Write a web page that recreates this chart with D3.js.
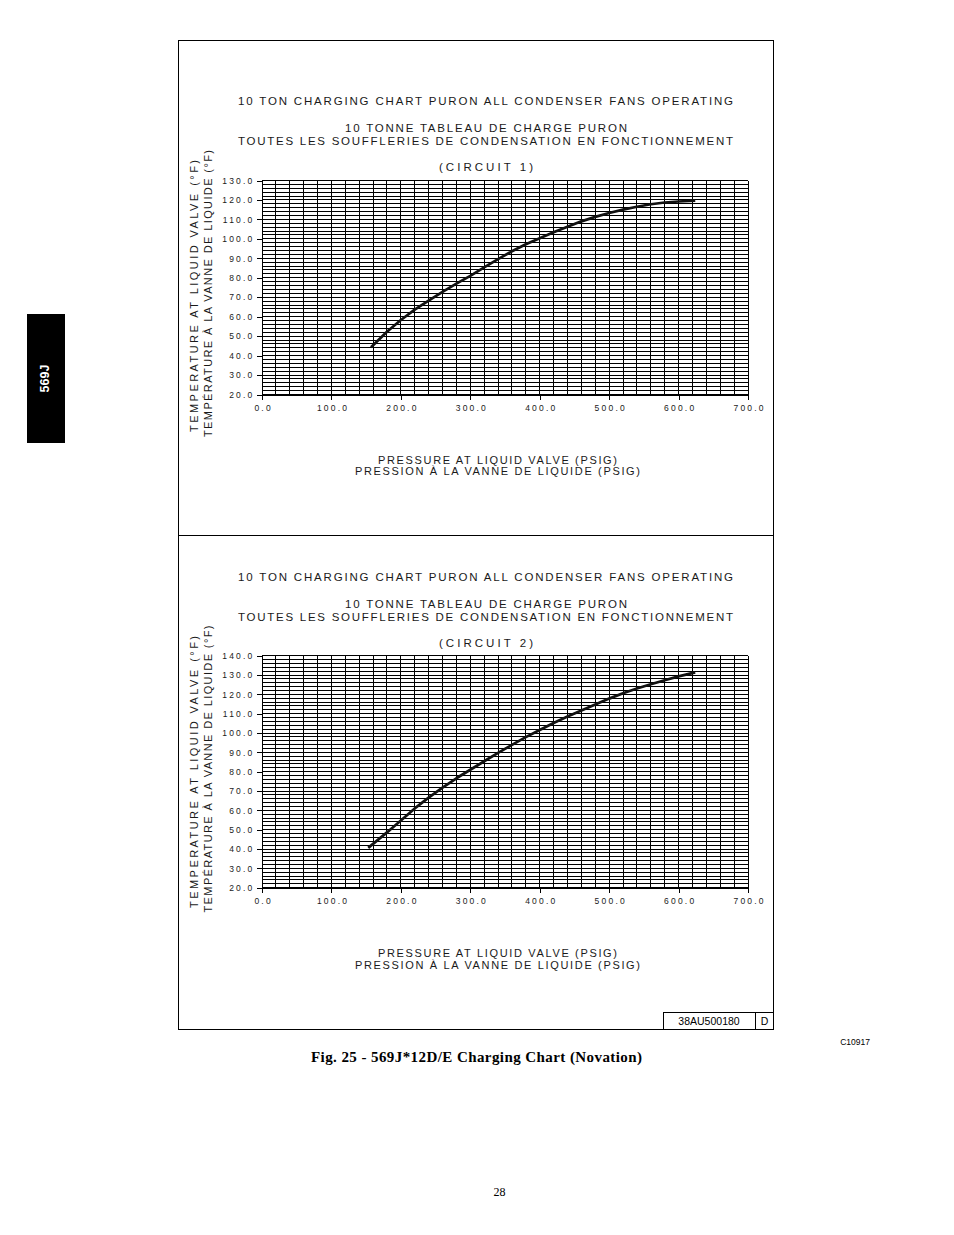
<!DOCTYPE html>
<html><head><meta charset="utf-8">
<script src="https://cdn.jsdelivr.net/npm/d3@7"></script>
<style>body{margin:0;background:#fff} svg{display:block}</style>
</head><body>
<svg id="page" width="954" height="1235"></svg>
<script>
// ---------- data ----------
const xTicks = [0, 100, 200, 300, 400, 500, 600, 700];
const yTicks1 = [20, 30, 40, 50, 60, 70, 80, 90, 100, 110, 120, 130];
const yTicks2 = [20, 30, 40, 50, 60, 70, 80, 90, 100, 110, 120, 130, 140];
const pressure1 = [157, 180, 200, 220, 240, 260, 280, 300, 320, 340, 360, 380, 400, 420, 440, 460, 480, 500, 520, 540, 560, 580, 600, 624];
const temp1     = [44.3, 52.3, 58.3, 63.6, 68.3, 72.7, 77, 81, 85.3, 89.6, 93.6, 97.2, 100.3, 103.4, 106.2, 109, 111.3, 113.3, 115, 116.5, 117.8, 118.7, 119.2, 119.7];
const pressure2 = [153, 180, 200, 220, 240, 260, 280, 300, 320, 340, 360, 380, 400, 420, 440, 460, 480, 500, 520, 540, 560, 580, 600, 624];
const temp2     = [40.6, 48.6, 54.8, 61, 66.6, 71.8, 76.6, 81, 85.4, 89.7, 93.9, 97.9, 101.6, 105.2, 108.5, 111.6, 114.8, 117.8, 120.6, 123, 125.2, 127.3, 129.3, 131.4];
const titleLines = ["10 TON CHARGING CHART PURON ALL CONDENSER FANS OPERATING",
                    "10 TONNE TABLEAU DE CHARGE PURON",
                    "TOUTES LES SOUFFLERIES DE CONDENSATION EN FONCTIONNEMENT"];
const circuitLabels = ["(CIRCUIT 1)", "(CIRCUIT 2)"];
const xTitles = ["PRESSURE AT LIQUID VALVE (PSIG)", "PRESSION À LA VANNE DE LIQUIDE (PSIG)"];
const yTitles = ["TEMPERATURE AT LIQUID VALVE (°F)", "TEMPÉRATURE À LA VANNE DE LIQUIDE (°F)"];

// ---------- drawing ----------
const svg = d3.select("#page");
const FONT = "'Liberation Sans', Arial, sans-serif";
const INK = "#1a1a1a";

svg.append("rect").attr("width", 954).attr("height", 1235).attr("fill", "#fff");

// side tab
svg.append("rect").attr("x", 27).attr("y", 314).attr("width", 38).attr("height", 129).attr("fill", "#000");
svg.append("text").attr("transform", "translate(49,378.5) rotate(-90)")
  .attr("text-anchor", "middle").attr("fill", "#fff").attr("font-family", FONT)
  .attr("font-weight", "bold").attr("font-size", 12.5).text("569J");

// panel frame
svg.append("rect").attr("x", 178.5).attr("y", 40.5).attr("width", 595).attr("height", 989)
  .attr("fill", "none").attr("stroke", "#000").attr("stroke-width", 1);
svg.append("line").attr("x1", 178.5).attr("x2", 773.5).attr("y1", 535.5).attr("y2", 535.5)
  .attr("stroke", "#000").attr("stroke-width", 1);

// drawing code box
svg.append("rect").attr("x", 663.5).attr("y", 1012.5).attr("width", 92).attr("height", 17)
  .attr("fill", "none").attr("stroke", "#000");
svg.append("rect").attr("x", 755.5).attr("y", 1012.5).attr("width", 18).attr("height", 17)
  .attr("fill", "none").attr("stroke", "#000");
svg.append("text").attr("x", 709).attr("y", 1025).attr("text-anchor", "middle")
  .attr("font-family", FONT).attr("font-size", 10.5).text("38AU500180");
svg.append("text").attr("x", 764.5).attr("y", 1025).attr("text-anchor", "middle")
  .attr("font-family", FONT).attr("font-size", 10.5).text("D");
svg.append("text").attr("x", 870).attr("y", 1044.5).attr("text-anchor", "end")
  .attr("font-family", FONT).attr("font-size", 8.5).text("C10917");

// caption + page number
svg.append("text").attr("x", 476.5).attr("y", 1062).attr("text-anchor", "middle")
  .attr("font-family", "'Liberation Serif', 'Times New Roman', serif").attr("font-weight", "bold")
  .attr("font-size", 15).attr("textLength", 331).attr("lengthAdjust", "spacing")
  .text("Fig. 25 - 569J*12D/E Charging Chart (Novation)");
svg.append("text").attr("x", 499.5).attr("y", 1196).attr("text-anchor", "middle")
  .attr("font-family", "'Liberation Serif', 'Times New Roman', serif")
  .attr("font-size", 12).text("28");

function addText(g, str, x, y, len, size, rotate) {
  const t = g.append("text").attr("text-anchor", "middle").attr("font-family", FONT)
    .attr("font-size", size).attr("fill", INK)
    .attr("textLength", len).attr("lengthAdjust", "spacing").text(str);
  if (rotate) t.attr("transform", `translate(${x},${y}) rotate(-90)`);
  else t.attr("x", x).attr("y", y);
  return t;
}

function drawChart(c) {
  const g = svg.append("g");
  const x = d3.scaleLinear().domain([0, 700]).range([262, 748]);
  const y = d3.scaleLinear().domain(c.yDomain).range(c.yRange);

  // titles
  addText(g, titleLines[0], 485.5, c.tY[0], 495, 11.5);
  addText(g, titleLines[1], 486, c.tY[1], 282, 11.5);
  addText(g, titleLines[2], 485.5, c.tY[2], 495, 11.5);
  addText(g, c.circuit, 486, c.tY[3], 94, 11.5);

  // y titles (rotated)
  addText(g, yTitles[0], 197.5, c.yt1[0], c.yt1[1], 11, true);
  addText(g, yTitles[1], 211.5, c.yt2[0], c.yt2[1], 11, true);
  // x titles
  addText(g, xTitles[0], 497.5, c.xtY[0], 239, 11);
  addText(g, xTitles[1], 497.5, c.xtY[1], 285, 11);

  // grid
  const grid = g.append("g").attr("stroke", "#000").attr("shape-rendering", "crispEdges");
  const vLines = d3.range(0, 701, 20);
  grid.selectAll("line.v").data(vLines).join("line").attr("class", "v")
    .attr("x1", d => x(d)).attr("x2", d => x(d))
    .attr("y1", y(c.yDomain[0])).attr("y2", y(c.yDomain[1])).attr("stroke-width", 1);
  const hLines = d3.range(c.yDomain[0], c.yDomain[1] + 0.5, 2);
  grid.selectAll("line.h").data(hLines).join("line").attr("class", "h")
    .attr("x1", x(0)).attr("x2", x(700))
    .attr("y1", d => y(d)).attr("y2", d => y(d)).attr("stroke-width", 1);

  // axes
  const ax = g.append("g").attr("transform", `translate(${x(0)},0)`)
    .call(d3.axisLeft(y).tickValues(c.yTicks).tickSize(5).tickSizeOuter(0).tickPadding(2.5)
      .tickFormat(d3.format(".1f")));
  const bx = g.append("g").attr("transform", `translate(0,${y(c.yDomain[0])})`)
    .call(d3.axisBottom(x).tickValues(xTicks).tickSize(5).tickSizeOuter(0).tickPadding(5)
      .tickFormat(d3.format(".1f")));
  [ax, bx].forEach(a => {
    a.selectAll("path.domain").attr("stroke", "#000").attr("shape-rendering", "crispEdges");
    a.selectAll(".tick line").attr("stroke", "#000").attr("shape-rendering", "crispEdges");
    a.selectAll(".tick text").attr("font-family", FONT).attr("font-size", 8.5)
      .attr("letter-spacing", "2.2px").attr("fill", INK);
  });
  bx.selectAll(".tick text").attr("dx", "1.1px");

  // curve
  const pts = c.pressure.map((p, i) => [p, c.temp[i]]);
  g.append("path").datum(pts)
    .attr("fill", "none").attr("stroke", "#111").attr("stroke-width", 2.7)
    .attr("stroke-linejoin", "round").attr("stroke-linecap", "butt")
    .attr("d", d3.line().x(d => x(d[0])).y(d => y(d[1])));
}

drawChart({
  yDomain: [20, 130], yRange: [394.5, 180.5], yTicks: yTicks1,
  pressure: pressure1, temp: temp1, circuit: circuitLabels[0],
  tY: [104.5, 131.5, 144.5, 171], yt1: [296, 272], yt2: [293.5, 287], xtY: [463.5, 475]
});
drawChart({
  yDomain: [20, 140], yRange: [887.7, 655.7], yTicks: yTicks2,
  pressure: pressure2, temp: temp2, circuit: circuitLabels[1],
  tY: [581, 607.5, 621, 647], yt1: [772, 272], yt2: [769, 287], xtY: [956.5, 969]
});
</script>
</body></html>
